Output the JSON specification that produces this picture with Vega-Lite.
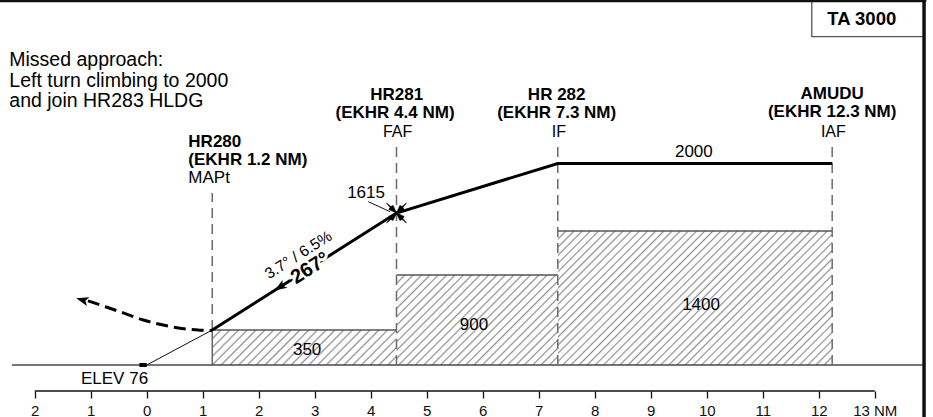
{
"$schema": "https://vega.github.io/schema/vega-lite/v6.json",
"width": 933, "height": 391,
"autosize": {"type": "none"},
"padding": {"left": 0, "top": 0, "right": 0, "bottom": 26},
"background": "white",
"config": {"view": {"stroke": null}, "font": "Liberation Sans"},
"datasets": {
  "boxes": [
    {"box": "A", "x": 1.17, "x2": 4.46, "alt": 0, "alt2": 350},
    {"box": "B", "x": 4.46, "x2": 7.34, "alt": 0, "alt2": 900},
    {"box": "C", "x": 7.34, "x2": 12.24, "alt": 0, "alt2": 1340}
  ],
  "fixes": [
    {"fix": "MAPt", "x": 1.17, "alt": 350, "alt2": 1720},
    {"fix": "FAF", "x": 4.46, "alt": 0, "alt2": 2220},
    {"fix": "IF", "x": 7.34, "alt": 0, "alt2": 2220},
    {"fix": "IAF", "x": 12.24, "alt": 0, "alt2": 2220}
  ],
  "profile": [
    {"x": 1.17, "alt": 350}, {"x": 4.46, "alt": 1520}, {"x": 7.34, "alt": 2015}, {"x": 12.24, "alt": 2015}
  ],
  "missed": [
    {"x": 1.17, "alt": 345}, {"x": 0.95, "alt": 348}, {"x": 0.42, "alt": 385}, {"x": -0.06, "alt": 450},
    {"x": -0.48, "alt": 533}, {"x": -0.83, "alt": 600}, {"x": -1.05, "alt": 642}
  ]
},
"encoding": {
  "x": {"field": "x", "type": "quantitative",
    "scale": {"domain": [-2.62, 14.04], "nice": false, "zero": false},
    "axis": {"values": [-2,-1,0,1,2,3,4,5,6,7,8,9,10,11,12,13],
      "labelExpr": "datum.value == 13 ? '13 NM' : '' + abs(datum.value)",
      "domain": false, "grid": false, "ticks": true, "tickSize": 7, "tickWidth": 1.3, "tickColor": "#111",
      "labelFontSize": 15, "labelColor": "#111", "labelPadding": 5, "title": null, "labelFlush": false, "labelOverlap": false}},
  "y": {"field": "alt", "type": "quantitative",
    "scale": {"domain": [-260, 3650], "nice": false, "zero": false}, "axis": null}
},
"layer": [
  {"data": {"name": "boxes"}, "transform": [{"filter": "datum.box == 'A'"}],
   "mark": {"type": "rect", "fill": {"gradient": "linear", "x1": 0, "y1": 0, "x2": 1.1485, "y2": 0.2181, "stops": [
    {"offset":0,"color":"#909090"},{"offset":0.008,"color":"#fff"},{"offset":0.032,"color":"#fff"},
    {"offset":0.04,"color":"#909090"},{"offset":0.048,"color":"#fff"},{"offset":0.072,"color":"#fff"},
    {"offset":0.08,"color":"#909090"},{"offset":0.088,"color":"#fff"},{"offset":0.112,"color":"#fff"},
    {"offset":0.12,"color":"#909090"},{"offset":0.128,"color":"#fff"},{"offset":0.152,"color":"#fff"},
    {"offset":0.16,"color":"#909090"},{"offset":0.168,"color":"#fff"},{"offset":0.192,"color":"#fff"},
    {"offset":0.2,"color":"#909090"},{"offset":0.208,"color":"#fff"},{"offset":0.232,"color":"#fff"},
    {"offset":0.24,"color":"#909090"},{"offset":0.248,"color":"#fff"},{"offset":0.272,"color":"#fff"},
    {"offset":0.28,"color":"#909090"},{"offset":0.288,"color":"#fff"},{"offset":0.312,"color":"#fff"},
    {"offset":0.32,"color":"#909090"},{"offset":0.328,"color":"#fff"},{"offset":0.352,"color":"#fff"},
    {"offset":0.36,"color":"#909090"},{"offset":0.368,"color":"#fff"},{"offset":0.392,"color":"#fff"},
    {"offset":0.4,"color":"#909090"},{"offset":0.408,"color":"#fff"},{"offset":0.432,"color":"#fff"},
    {"offset":0.44,"color":"#909090"},{"offset":0.448,"color":"#fff"},{"offset":0.472,"color":"#fff"},
    {"offset":0.48,"color":"#909090"},{"offset":0.488,"color":"#fff"},{"offset":0.512,"color":"#fff"},
    {"offset":0.52,"color":"#909090"},{"offset":0.528,"color":"#fff"},{"offset":0.552,"color":"#fff"},
    {"offset":0.56,"color":"#909090"},{"offset":0.568,"color":"#fff"},{"offset":0.592,"color":"#fff"},
    {"offset":0.6,"color":"#909090"},{"offset":0.608,"color":"#fff"},{"offset":0.632,"color":"#fff"},
    {"offset":0.64,"color":"#909090"},{"offset":0.648,"color":"#fff"},{"offset":0.672,"color":"#fff"},
    {"offset":0.68,"color":"#909090"},{"offset":0.688,"color":"#fff"},{"offset":0.712,"color":"#fff"},
    {"offset":0.72,"color":"#909090"},{"offset":0.728,"color":"#fff"},{"offset":0.752,"color":"#fff"},
    {"offset":0.76,"color":"#909090"},{"offset":0.768,"color":"#fff"},{"offset":0.792,"color":"#fff"},
    {"offset":0.8,"color":"#909090"},{"offset":0.808,"color":"#fff"},{"offset":0.832,"color":"#fff"},
    {"offset":0.84,"color":"#909090"},{"offset":0.848,"color":"#fff"},{"offset":0.872,"color":"#fff"},
    {"offset":0.88,"color":"#909090"},{"offset":0.888,"color":"#fff"},{"offset":0.912,"color":"#fff"},
    {"offset":0.92,"color":"#909090"},{"offset":0.928,"color":"#fff"},{"offset":0.952,"color":"#fff"},
    {"offset":0.96,"color":"#909090"},{"offset":0.968,"color":"#fff"},{"offset":0.992,"color":"#fff"},
    {"offset":1,"color":"#909090"}]}},
   "encoding": {"x2": {"field": "x2"}, "y2": {"field": "alt2"}}},
  {"data": {"name": "boxes"}, "transform": [{"filter": "datum.box == 'B'"}],
   "mark": {"type": "rect", "fill": {"gradient": "linear", "x1": 0, "y1": 0, "x2": 1.188, "y2": 0.6633, "stops": [
    {"offset":0,"color":"#909090"},{"offset":0.0067,"color":"#fff"},{"offset":0.0267,"color":"#fff"},
    {"offset":0.0333,"color":"#909090"},{"offset":0.04,"color":"#fff"},{"offset":0.06,"color":"#fff"},
    {"offset":0.0667,"color":"#909090"},{"offset":0.0733,"color":"#fff"},{"offset":0.0933,"color":"#fff"},
    {"offset":0.1,"color":"#909090"},{"offset":0.1067,"color":"#fff"},{"offset":0.1267,"color":"#fff"},
    {"offset":0.1333,"color":"#909090"},{"offset":0.14,"color":"#fff"},{"offset":0.16,"color":"#fff"},
    {"offset":0.1667,"color":"#909090"},{"offset":0.1733,"color":"#fff"},{"offset":0.1933,"color":"#fff"},
    {"offset":0.2,"color":"#909090"},{"offset":0.2067,"color":"#fff"},{"offset":0.2267,"color":"#fff"},
    {"offset":0.2333,"color":"#909090"},{"offset":0.24,"color":"#fff"},{"offset":0.26,"color":"#fff"},
    {"offset":0.2667,"color":"#909090"},{"offset":0.2733,"color":"#fff"},{"offset":0.2933,"color":"#fff"},
    {"offset":0.3,"color":"#909090"},{"offset":0.3067,"color":"#fff"},{"offset":0.3267,"color":"#fff"},
    {"offset":0.3333,"color":"#909090"},{"offset":0.34,"color":"#fff"},{"offset":0.36,"color":"#fff"},
    {"offset":0.3667,"color":"#909090"},{"offset":0.3733,"color":"#fff"},{"offset":0.3933,"color":"#fff"},
    {"offset":0.4,"color":"#909090"},{"offset":0.4067,"color":"#fff"},{"offset":0.4267,"color":"#fff"},
    {"offset":0.4333,"color":"#909090"},{"offset":0.44,"color":"#fff"},{"offset":0.46,"color":"#fff"},
    {"offset":0.4667,"color":"#909090"},{"offset":0.4733,"color":"#fff"},{"offset":0.4933,"color":"#fff"},
    {"offset":0.5,"color":"#909090"},{"offset":0.5067,"color":"#fff"},{"offset":0.5267,"color":"#fff"},
    {"offset":0.5333,"color":"#909090"},{"offset":0.54,"color":"#fff"},{"offset":0.56,"color":"#fff"},
    {"offset":0.5667,"color":"#909090"},{"offset":0.5733,"color":"#fff"},{"offset":0.5933,"color":"#fff"},
    {"offset":0.6,"color":"#909090"},{"offset":0.6067,"color":"#fff"},{"offset":0.6267,"color":"#fff"},
    {"offset":0.6333,"color":"#909090"},{"offset":0.64,"color":"#fff"},{"offset":0.66,"color":"#fff"},
    {"offset":0.6667,"color":"#909090"},{"offset":0.6733,"color":"#fff"},{"offset":0.6933,"color":"#fff"},
    {"offset":0.7,"color":"#909090"},{"offset":0.7067,"color":"#fff"},{"offset":0.7267,"color":"#fff"},
    {"offset":0.7333,"color":"#909090"},{"offset":0.74,"color":"#fff"},{"offset":0.76,"color":"#fff"},
    {"offset":0.7667,"color":"#909090"},{"offset":0.7733,"color":"#fff"},{"offset":0.7933,"color":"#fff"},
    {"offset":0.8,"color":"#909090"},{"offset":0.8067,"color":"#fff"},{"offset":0.8267,"color":"#fff"},
    {"offset":0.8333,"color":"#909090"},{"offset":0.84,"color":"#fff"},{"offset":0.86,"color":"#fff"},
    {"offset":0.8667,"color":"#909090"},{"offset":0.8733,"color":"#fff"},{"offset":0.8933,"color":"#fff"},
    {"offset":0.9,"color":"#909090"},{"offset":0.9067,"color":"#fff"},{"offset":0.9267,"color":"#fff"},
    {"offset":0.9333,"color":"#909090"},{"offset":0.94,"color":"#fff"},{"offset":0.96,"color":"#fff"},
    {"offset":0.9667,"color":"#909090"},{"offset":0.9733,"color":"#fff"},{"offset":0.9933,"color":"#fff"},
    {"offset":1,"color":"#909090"}]}},
   "encoding": {"x2": {"field": "x2"}, "y2": {"field": "alt2"}}},
  {"data": {"name": "boxes"}, "transform": [{"filter": "datum.box == 'C'"}],
   "mark": {"type": "rect", "fill": {"gradient": "linear", "x1": 0, "y1": 0, "x2": 1.2018, "y2": 0.5869, "stops": [
    {"offset":0,"color":"#909090"},{"offset":0.004,"color":"#fff"},{"offset":0.016,"color":"#fff"},
    {"offset":0.02,"color":"#909090"},{"offset":0.024,"color":"#fff"},{"offset":0.036,"color":"#fff"},
    {"offset":0.04,"color":"#909090"},{"offset":0.044,"color":"#fff"},{"offset":0.056,"color":"#fff"},
    {"offset":0.06,"color":"#909090"},{"offset":0.064,"color":"#fff"},{"offset":0.076,"color":"#fff"},
    {"offset":0.08,"color":"#909090"},{"offset":0.084,"color":"#fff"},{"offset":0.096,"color":"#fff"},
    {"offset":0.1,"color":"#909090"},{"offset":0.104,"color":"#fff"},{"offset":0.116,"color":"#fff"},
    {"offset":0.12,"color":"#909090"},{"offset":0.124,"color":"#fff"},{"offset":0.136,"color":"#fff"},
    {"offset":0.14,"color":"#909090"},{"offset":0.144,"color":"#fff"},{"offset":0.156,"color":"#fff"},
    {"offset":0.16,"color":"#909090"},{"offset":0.164,"color":"#fff"},{"offset":0.176,"color":"#fff"},
    {"offset":0.18,"color":"#909090"},{"offset":0.184,"color":"#fff"},{"offset":0.196,"color":"#fff"},
    {"offset":0.2,"color":"#909090"},{"offset":0.204,"color":"#fff"},{"offset":0.216,"color":"#fff"},
    {"offset":0.22,"color":"#909090"},{"offset":0.224,"color":"#fff"},{"offset":0.236,"color":"#fff"},
    {"offset":0.24,"color":"#909090"},{"offset":0.244,"color":"#fff"},{"offset":0.256,"color":"#fff"},
    {"offset":0.26,"color":"#909090"},{"offset":0.264,"color":"#fff"},{"offset":0.276,"color":"#fff"},
    {"offset":0.28,"color":"#909090"},{"offset":0.284,"color":"#fff"},{"offset":0.296,"color":"#fff"},
    {"offset":0.3,"color":"#909090"},{"offset":0.304,"color":"#fff"},{"offset":0.316,"color":"#fff"},
    {"offset":0.32,"color":"#909090"},{"offset":0.324,"color":"#fff"},{"offset":0.336,"color":"#fff"},
    {"offset":0.34,"color":"#909090"},{"offset":0.344,"color":"#fff"},{"offset":0.356,"color":"#fff"},
    {"offset":0.36,"color":"#909090"},{"offset":0.364,"color":"#fff"},{"offset":0.376,"color":"#fff"},
    {"offset":0.38,"color":"#909090"},{"offset":0.384,"color":"#fff"},{"offset":0.396,"color":"#fff"},
    {"offset":0.4,"color":"#909090"},{"offset":0.404,"color":"#fff"},{"offset":0.416,"color":"#fff"},
    {"offset":0.42,"color":"#909090"},{"offset":0.424,"color":"#fff"},{"offset":0.436,"color":"#fff"},
    {"offset":0.44,"color":"#909090"},{"offset":0.444,"color":"#fff"},{"offset":0.456,"color":"#fff"},
    {"offset":0.46,"color":"#909090"},{"offset":0.464,"color":"#fff"},{"offset":0.476,"color":"#fff"},
    {"offset":0.48,"color":"#909090"},{"offset":0.484,"color":"#fff"},{"offset":0.496,"color":"#fff"},
    {"offset":0.5,"color":"#909090"},{"offset":0.504,"color":"#fff"},{"offset":0.516,"color":"#fff"},
    {"offset":0.52,"color":"#909090"},{"offset":0.524,"color":"#fff"},{"offset":0.536,"color":"#fff"},
    {"offset":0.54,"color":"#909090"},{"offset":0.544,"color":"#fff"},{"offset":0.556,"color":"#fff"},
    {"offset":0.56,"color":"#909090"},{"offset":0.564,"color":"#fff"},{"offset":0.576,"color":"#fff"},
    {"offset":0.58,"color":"#909090"},{"offset":0.584,"color":"#fff"},{"offset":0.596,"color":"#fff"},
    {"offset":0.6,"color":"#909090"},{"offset":0.604,"color":"#fff"},{"offset":0.616,"color":"#fff"},
    {"offset":0.62,"color":"#909090"},{"offset":0.624,"color":"#fff"},{"offset":0.636,"color":"#fff"},
    {"offset":0.64,"color":"#909090"},{"offset":0.644,"color":"#fff"},{"offset":0.656,"color":"#fff"},
    {"offset":0.66,"color":"#909090"},{"offset":0.664,"color":"#fff"},{"offset":0.676,"color":"#fff"},
    {"offset":0.68,"color":"#909090"},{"offset":0.684,"color":"#fff"},{"offset":0.696,"color":"#fff"},
    {"offset":0.7,"color":"#909090"},{"offset":0.704,"color":"#fff"},{"offset":0.716,"color":"#fff"},
    {"offset":0.72,"color":"#909090"},{"offset":0.724,"color":"#fff"},{"offset":0.736,"color":"#fff"},
    {"offset":0.74,"color":"#909090"},{"offset":0.744,"color":"#fff"},{"offset":0.756,"color":"#fff"},
    {"offset":0.76,"color":"#909090"},{"offset":0.764,"color":"#fff"},{"offset":0.776,"color":"#fff"},
    {"offset":0.78,"color":"#909090"},{"offset":0.784,"color":"#fff"},{"offset":0.796,"color":"#fff"},
    {"offset":0.8,"color":"#909090"},{"offset":0.804,"color":"#fff"},{"offset":0.816,"color":"#fff"},
    {"offset":0.82,"color":"#909090"},{"offset":0.824,"color":"#fff"},{"offset":0.836,"color":"#fff"},
    {"offset":0.84,"color":"#909090"},{"offset":0.844,"color":"#fff"},{"offset":0.856,"color":"#fff"},
    {"offset":0.86,"color":"#909090"},{"offset":0.864,"color":"#fff"},{"offset":0.876,"color":"#fff"},
    {"offset":0.88,"color":"#909090"},{"offset":0.884,"color":"#fff"},{"offset":0.896,"color":"#fff"},
    {"offset":0.9,"color":"#909090"},{"offset":0.904,"color":"#fff"},{"offset":0.916,"color":"#fff"},
    {"offset":0.92,"color":"#909090"},{"offset":0.924,"color":"#fff"},{"offset":0.936,"color":"#fff"},
    {"offset":0.94,"color":"#909090"},{"offset":0.944,"color":"#fff"},{"offset":0.956,"color":"#fff"},
    {"offset":0.96,"color":"#909090"},{"offset":0.964,"color":"#fff"},{"offset":0.976,"color":"#fff"},
    {"offset":0.98,"color":"#909090"},{"offset":0.984,"color":"#fff"},{"offset":0.996,"color":"#fff"},
    {"offset":1,"color":"#909090"}]}},
   "encoding": {"x2": {"field": "x2"}, "y2": {"field": "alt2"}}},
  {"data": {"name": "boxes"},
   "mark": {"type": "rule", "color": "#555", "strokeWidth": 1.5},
   "encoding": {"x2": {"field": "x2"}, "y": {"field": "alt2", "type": "quantitative", "axis": null}}},
  {"data": {"name": "boxes"}, "transform": [{"filter": "datum.box == 'A'"}],
   "mark": {"type": "rule", "color": "#666", "strokeWidth": 1.5},
   "encoding": {"y2": {"field": "alt2"}}},
  {"data": {"values": [{"x": -2.405, "x2": 13.86, "alt": 0}]},
   "mark": {"type": "rule", "color": "#4f444f", "strokeWidth": 1.5},
   "encoding": {"x2": {"field": "x2"}}},
  {"data": {"values": [{"x": -2, "x2": 13, "alt": -260}]},
   "mark": {"type": "rule", "color": "#111", "strokeWidth": 1.5},
   "encoding": {"x2": {"field": "x2"}}},
  {"data": {"name": "fixes"},
   "mark": {"type": "rule", "color": "#6b6b6b", "strokeWidth": 1.5, "strokeDash": [10, 6]},
   "encoding": {"y2": {"field": "alt2"}}},
  {"data": {"values": [{"x": 0, "alt": 0}, {"x": 1.17, "alt": 350}]},
   "mark": {"type": "line", "color": "#111", "strokeWidth": 1},
   "encoding": {}},
  {"data": {"name": "profile"},
   "mark": {"type": "line", "color": "#000", "strokeWidth": 3},
   "encoding": {}},
  {"data": {"name": "missed"},
   "mark": {"type": "line", "color": "#000", "strokeWidth": 3, "strokeDash": [12, 6], "interpolate": "monotone"},
   "encoding": {}},
  {"data": {"values": [{"x": 2.38, "alt": 780}]},
   "mark": {"type": "point", "shape": "M0,-1L0.7,0.9L0,0.45L-0.7,0.9Z", "filled": true, "color": "#000", "opacity": 1, "size": 170, "angle": 237.6},
   "encoding": {}},
  {"data": {"values": [{"x": -1.146, "alt": 650}]},
   "mark": {"type": "point", "shape": "M0,-1L0.7,0.9L0,0.45L-0.7,0.9Z", "filled": true, "color": "#000", "opacity": 1, "size": 170, "angle": 286},
   "encoding": {}},
  {"data": {"values": [{"x": 4.46, "alt": 1520}]},
   "mark": {"type": "point", "shape": "M0,0L-0.34,-0.76L-0.558,-0.642L-1,-1L-0.642,-0.558L-0.76,-0.34Z M0,0L0.34,-0.76L0.558,-0.642L1,-1L0.642,-0.558L0.76,-0.34Z M0,0L0.34,0.76L0.558,0.642L1,1L0.642,0.558L0.76,0.34Z M0,0L-0.34,0.76L-0.558,0.642L-1,1L-0.642,0.558L-0.76,0.34Z",
     "filled": true, "color": "#000", "opacity": 1, "size": 400, "stroke": "#000", "strokeWidth": 0.6},
   "encoding": {}},
  {"data": {"values": [{"x": 3.957, "x2": 4.345, "alt": 1633, "alt2": 1533}]},
   "mark": {"type": "rule", "color": "#111", "strokeWidth": 1},
   "encoding": {"x2": {"field": "x2"}, "y2": {"field": "alt2"}}},
  {"data": {"values": [{"x": -0.13, "x2": 0, "alt": -20, "alt2": 20}]},
   "mark": {"type": "rect", "color": "#000"},
   "encoding": {"x2": {"field": "x2"}, "y2": {"field": "alt2"}}},
  {"data": {"values": [{"x": 11.876, "x2": 13.88, "alt": 3283, "alt2": 3660}]},
   "mark": {"type": "rect", "fill": "#fff", "stroke": "#555", "strokeWidth": 1.3},
   "encoding": {"x2": {"field": "x2"}, "y2": {"field": "alt2"}}},
  {"data": {"values": [{"x": -2.62, "x2": 13.92, "alt": 3640}]},
   "mark": {"type": "rule", "color": "#111", "strokeWidth": 2.5},
   "encoding": {"x2": {"field": "x2"}}},
  {"data": {"values": [{"x": 13.88, "alt": -520, "alt2": 3650}]},
   "mark": {"type": "rule", "color": "#111", "strokeWidth": 3.5},
   "encoding": {"y2": {"field": "alt2"}}},
  {"data": {"values": [
     {"x": -2.454, "alt": 2990, "text": "Missed approach:"},
     {"x": -2.454, "alt": 2777, "text": "Left turn climbing to 2000"},
     {"x": -2.454, "alt": 2577, "text": "and join HR283 HLDG"}]},
   "mark": {"type": "text", "align": "left", "baseline": "alphabetic", "fontSize": 19.5, "color": "#000"},
   "encoding": {"text": {"field": "text"}}},
  {"data": {"values": [
     {"x": 0.743, "alt": 2183, "text": "HR280"},
     {"x": 0.743, "alt": 2000, "text": "(EKHR 1.2 NM)"}]},
   "mark": {"type": "text", "align": "left", "baseline": "alphabetic", "fontSize": 17, "fontWeight": "bold", "color": "#000"},
   "encoding": {"text": {"field": "text"}}},
  {"data": {"values": [{"x": 0.743, "alt": 1817, "text": "MAPt"}]},
   "mark": {"type": "text", "align": "left", "baseline": "alphabetic", "fontSize": 17, "color": "#000"},
   "encoding": {"text": {"field": "text"}}},
  {"data": {"values": [
     {"x": 4.464, "alt": 2650, "text": "HR281"},
     {"x": 4.434, "alt": 2467, "text": "(EKHR 4.4 NM)"},
     {"x": 7.32, "alt": 2650, "text": "HR 282"},
     {"x": 7.32, "alt": 2467, "text": "(EKHR 7.3 NM)"},
     {"x": 12.24, "alt": 2660, "text": "AMUDU"},
     {"x": 12.24, "alt": 2483, "text": "(EKHR 12.3 NM)"}]},
   "mark": {"type": "text", "align": "center", "baseline": "alphabetic", "fontSize": 17, "fontWeight": "bold", "color": "#000"},
   "encoding": {"text": {"field": "text"}}},
  {"data": {"values": [
     {"x": 4.479, "alt": 2285, "text": "FAF"},
     {"x": 7.36, "alt": 2285, "text": "IF"},
     {"x": 12.26, "alt": 2285, "text": "IAF"}]},
   "mark": {"type": "text", "align": "center", "baseline": "alphabetic", "fontSize": 16, "color": "#000"},
   "encoding": {"text": {"field": "text"}}},
  {"data": {"values": [
     {"x": 3.916, "alt": 1667, "text": "1615"},
     {"x": 9.77, "alt": 2077, "text": "2000"},
     {"x": 2.864, "alt": 100, "text": "350"},
     {"x": 5.845, "alt": 350, "text": "900"},
     {"x": 9.898, "alt": 550, "text": "1400"},
     {"x": -0.575, "alt": -193, "text": "ELEV 76"}]},
   "mark": {"type": "text", "align": "center", "baseline": "alphabetic", "fontSize": 17, "color": "#000"},
   "encoding": {"text": {"field": "text"}}},
  {"data": {"values": [{"x": 12.768, "alt": 3400, "text": "TA 3000"}]},
   "mark": {"type": "text", "align": "center", "baseline": "alphabetic", "fontSize": 18.5, "fontWeight": "bold", "color": "#000"},
   "encoding": {"text": {"field": "text"}}},
  {"data": {"values": [{"x": 2.707, "alt": 1100, "text": "3.7° / 6.5%"}]},
   "mark": {"type": "text", "align": "center", "baseline": "middle", "fontSize": 15.5, "angle": 327.6, "color": "#000"},
   "encoding": {"text": {"field": "text"}}},
  {"data": {"values": [{"x": 2.918, "alt": 967, "text": "267°"}]},
   "mark": {"type": "text", "align": "center", "baseline": "middle", "fontSize": 20, "fontWeight": "bold", "angle": 327.6, "fill": "#fff", "stroke": "#fff", "strokeWidth": 6},
   "encoding": {"text": {"field": "text"}}},
  {"data": {"values": [{"x": 2.918, "alt": 967, "text": "267°"}]},
   "mark": {"type": "text", "align": "center", "baseline": "middle", "fontSize": 20, "fontWeight": "bold", "angle": 327.6, "color": "#000"},
   "encoding": {"text": {"field": "text"}}}
]
}
